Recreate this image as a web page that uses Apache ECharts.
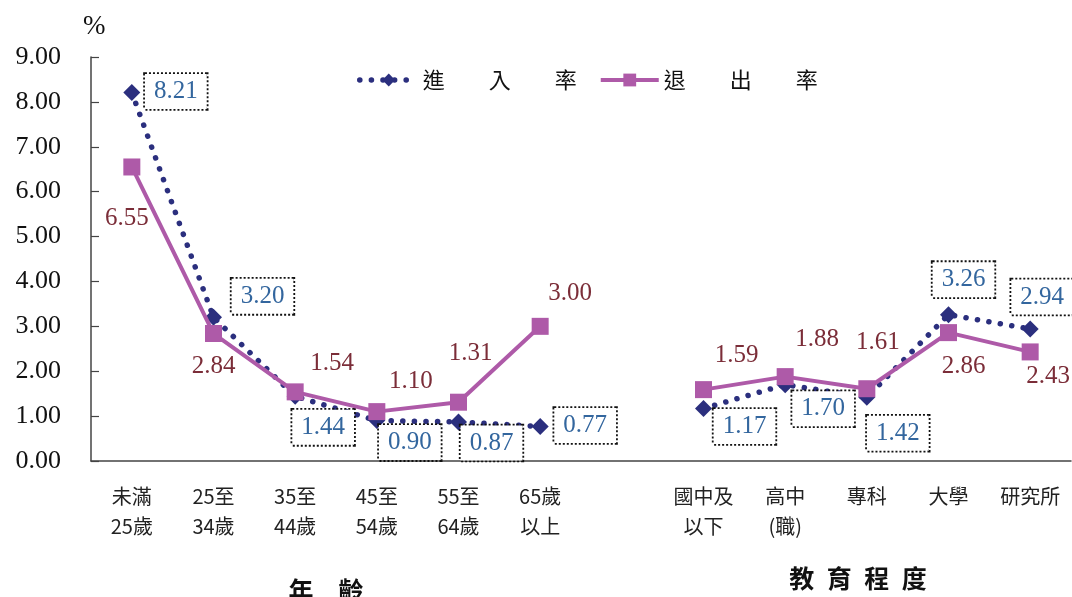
<!DOCTYPE html>
<html>
<head>
<meta charset="utf-8">
<script src="https://cdn.jsdelivr.net/npm/echarts@6/dist/echarts.min.js"></script>
<style>
html,body{margin:0;padding:0;background:#fff;}
#chart{width:1072px;height:597px;}
</style>
</head>
<body>
<div id="chart"></div>
<script>
// ---- data ----
var categories = ['未滿\n25歲', '25至\n34歲', '35至\n44歲', '45至\n54歲', '55至\n64歲', '65歲\n以上', '',
                  '國中及\n以下', '高中\n(職)', '專科', '大學', '研究所'];
var entryRate = [8.21, 3.20, 1.44, 0.90, 0.87, 0.77, null, 1.17, 1.70, 1.42, 3.26, 2.94];
var exitRate  = [6.55, 2.84, 1.54, 1.10, 1.31, 3.00, null, 1.59, 1.88, 1.61, 2.86, 2.43];
var yTicks = [0, 1, 2, 3, 4, 5, 6, 7, 8, 9];
var seriesNames = ['進\u3000\u3000入\u3000\u3000率', '退\u3000\u3000出\u3000\u3000率'];

// ---- label layout (pixel offsets from each point) ----
var entryLabelOffsets = [[44,-1],[49,-21],[28,31],[33,22],[33,21],[45,-1],null,[41,18],[38,24],[31,36],[15,-35],[12,-32]];
var exitLabelOffsets  = [[-5,51],[0,33],[37,-28],[34,-30],[12,-49],[30,-33],null,[33,-34],[32,-37],[11,-46],[15,34],[18,25]];

var serif = '"Liberation Serif", "Times New Roman", serif';
var cjk = '"Noto Sans CJK TC", "Noto Sans CJK SC", sans-serif';

function buildData(values, offsets) {
  return values.map(function (v, i) {
    if (v === null) return '-';
    return { value: v, label: { offset: offsets[i] } };
  });
}

var chart = echarts.init(document.getElementById('chart'));
chart.setOption({
  animation: false,
  backgroundColor: '#fff',
  grid: { left: 91, right: 1, top: 57, bottom: 136 },
  legend: {
    left: 352, top: 64,
    itemWidth: 58, itemHeight: 16, itemGap: 22,
    lineStyle: { width: 'inherit' },
    textStyle: { fontFamily: cjk, fontSize: 22, color: '#111' },
    data: seriesNames
  },
  xAxis: {
    type: 'category',
    data: categories,
    boundaryGap: true,
    axisLine: { lineStyle: { color: '#444', width: 1.5 } },
    axisTick: { inside: true, length: 8, lineStyle: { color: '#444', width: 1.2 } },
    axisLabel: { fontFamily: cjk, fontSize: 20, color: '#222', lineHeight: 30, margin: 20, interval: 0 }
  },
  yAxis: {
    type: 'value',
    min: yTicks[0], max: yTicks[yTicks.length - 1], interval: 1,
    splitLine: { show: false },
    axisLine: { show: true, lineStyle: { color: '#444', width: 1.5 } },
    axisTick: { show: true, inside: true, length: 8, lineStyle: { color: '#444', width: 1.2 } },
    axisLabel: { fontFamily: serif, fontSize: 26, color: '#111', margin: 30,
      formatter: function (v) { return v.toFixed(2); } }
  },
  graphic: [
    { type: 'text', left: 83, top: 13, style: { text: '%', font: '27px ' + serif, fill: '#111' } },
    { type: 'text', x: 326, y: 590, style: { text: '年\u3000齡', font: 'bold 25px ' + cjk, fill: '#111', align: 'center', verticalAlign: 'middle' } },
    { type: 'text', x: 858, y: 578, style: { text: '教\u2002育\u2002程\u2002度', font: 'bold 25px ' + cjk, fill: '#111', align: 'center', verticalAlign: 'middle' } }
  ],
  series: [
    {
      name: seriesNames[0],
      type: 'line',
      data: buildData(entryRate, entryLabelOffsets),
      symbol: 'diamond',
      symbolSize: 17,
      itemStyle: { color: '#2B2F7E' },
      lineStyle: { color: '#2B2F7E', width: 5.5, type: [0.1, 11.5], cap: 'round' },
      label: {
        show: true, position: 'inside',
        fontFamily: serif, fontSize: 25, color: '#33669E',
        borderColor: '#111', borderWidth: 1.8, borderType: [2, 2],
        backgroundColor: '#fff',
        padding: [6, 9, 4, 9],
        formatter: function (p) { return p.value.toFixed(2); }
      },
      z: 2
    },
    {
      name: seriesNames[1],
      type: 'line',
      data: buildData(exitRate, exitLabelOffsets),
      symbol: 'rect',
      symbolSize: 17,
      itemStyle: { color: '#AE5AA8' },
      lineStyle: { color: '#AE5AA8', width: 4 },
      label: {
        show: true, position: 'inside',
        fontFamily: serif, fontSize: 25, color: '#7B2D38',
        formatter: function (p) { return p.value.toFixed(2); }
      },
      z: 3
    }
  ]
});
</script>
</body>
</html>
